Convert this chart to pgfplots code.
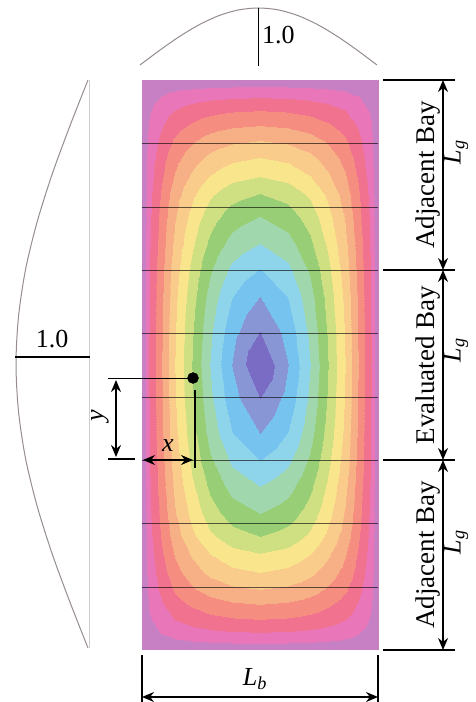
\documentclass[border=0pt]{standalone}
\usepackage{pgfplots}
\pgfplotsset{compat=1.18}
\usepackage{fontspec}
\setmainfont{Liberation Serif}
\usetikzlibrary{arrows.meta}
\tikzset{dimarr/.style={line width=1.4bp, arrows={Stealth[length=12bp,width=10bp]-Stealth[length=12bp,width=10bp]}}}
\definecolor{curvegray}{RGB}{150,140,140}
\definecolor{thingray}{RGB}{205,205,205}
\begin{document}
\begin{tikzpicture}
\begin{axis}[scale only axis, width=476bp, height=702bp,
  xmin=0, xmax=476, ymin=0, ymax=702, hide axis, clip=false,
  colormap={cont}{rgb255(0pt)=(199,128,196) rgb255(13.7pt)=(232,118,184) rgb255(27.7pt)=(240,114,142)
    rgb255(41.7pt)=(245,142,128) rgb255(55.7pt)=(247,176,134) rgb255(69.7pt)=(250,204,140)
    rgb255(83.7pt)=(249,230,140) rgb255(97.7pt)=(206,224,130) rgb255(111.7pt)=(152,206,118)
    rgb255(125.7pt)=(160,215,172) rgb255(139.7pt)=(142,213,236) rgb255(153.7pt)=(118,195,240)
    rgb255(167.7pt)=(136,150,214) rgb255(181.7pt)=(122,108,196) rgb255(196pt)=(122,108,196)},
  point meta min=0, point meta max=196]

\addplot[surf, shader=interp, colormap access=piecewise constant, mesh/rows=29, mesh/cols=15, point meta=explicit]
table[row sep=\\, meta=F]{
x y F\\
142 52 0\\149.3 52 0\\161.7 52 0\\175 52 0\\191.6 52 0\\210.4 52 0\\231.7 52 0\\260 52 0\\288.3 52 0\\309.6 52 0\\328.4 52 0\\345 52 0\\358.3 52 0\\370.7 52 0\\378 52 0\\
142 58.6 0\\149.3 58.6 5\\161.7 58.6 8.1\\175 58.6 10.3\\191.6 58.6 11.8\\210.4 58.6 12.9\\231.7 58.6 13.7\\260 58.6 14\\288.3 58.6 13.7\\309.6 58.6 12.9\\328.4 58.6 11.8\\345 58.6 10.3\\358.3 58.6 8.1\\370.7 58.6 5\\378 58.6 0\\
142 69.7 0\\149.3 69.7 8.9\\161.7 69.7 15\\175 69.7 19.6\\191.6 69.7 23\\210.4 69.7 25.5\\231.7 69.7 27.2\\260 69.7 28\\288.3 69.7 27.2\\309.6 69.7 25.5\\328.4 69.7 23\\345 69.7 19.6\\358.3 69.7 15\\370.7 69.7 8.9\\378 69.7 0\\
142 82.8 0\\149.3 82.8 12.2\\161.7 82.8 21.2\\175 82.8 28.3\\191.6 82.8 33.8\\210.4 82.8 37.9\\231.7 82.8 40.7\\260 82.8 42\\288.3 82.8 40.7\\309.6 82.8 37.9\\328.4 82.8 33.8\\345 82.8 28.3\\358.3 82.8 21.2\\370.7 82.8 12.2\\378 82.8 0\\
142 97.6 0\\149.3 97.6 15\\161.7 97.6 26.8\\175 97.6 36.4\\191.6 97.6 44.1\\210.4 97.6 50\\231.7 97.6 54\\260 97.6 56\\288.3 97.6 54\\309.6 97.6 50\\328.4 97.6 44.1\\345 97.6 36.4\\358.3 97.6 26.8\\370.7 97.6 15\\378 97.6 0\\
142 113.3 0\\149.3 113.3 17.5\\161.7 113.3 31.9\\175 113.3 44\\191.6 113.3 54\\210.4 113.3 61.8\\231.7 113.3 67.3\\260 113.3 70\\288.3 113.3 67.3\\309.6 113.3 61.8\\328.4 113.3 54\\345 113.3 44\\358.3 113.3 31.9\\370.7 113.3 17.5\\378 113.3 0\\
142 130.4 0\\149.3 130.4 19.6\\161.7 130.4 36.4\\175 130.4 51.1\\191.6 130.4 63.4\\210.4 130.4 73.3\\231.7 130.4 80.4\\260 130.4 84\\288.3 130.4 80.4\\309.6 130.4 73.3\\328.4 130.4 63.4\\345 130.4 51.1\\358.3 130.4 36.4\\370.7 130.4 19.6\\378 130.4 0\\
142 148.9 0\\149.3 148.9 21.4\\161.7 148.9 40.5\\175 148.9 57.5\\191.6 148.9 72.3\\210.4 148.9 84.5\\231.7 148.9 93.4\\260 148.9 98\\288.3 148.9 93.4\\309.6 148.9 84.5\\328.4 148.9 72.3\\345 148.9 57.5\\358.3 148.9 40.5\\370.7 148.9 21.4\\378 148.9 0\\
142 166 0\\149.3 166 23\\161.7 166 44.1\\175 166 63.4\\191.6 166 80.6\\210.4 166 95.2\\231.7 166 106.2\\260 166 112\\288.3 166 106.2\\309.6 166 95.2\\328.4 166 80.6\\345 166 63.4\\358.3 166 44.1\\370.7 166 23\\378 166 0\\
142 188.8 0\\149.3 188.8 24.4\\161.7 188.8 47.3\\175 188.8 68.7\\191.6 188.8 88.3\\210.4 188.8 105.4\\231.7 188.8 118.8\\260 188.8 126\\288.3 188.8 118.8\\309.6 188.8 105.4\\328.4 188.8 88.3\\345 188.8 68.7\\358.3 188.8 47.3\\370.7 188.8 24.4\\378 188.8 0\\
142 215.9 0\\149.3 215.9 25.5\\161.7 215.9 50\\175 215.9 73.3\\191.6 215.9 95.2\\210.4 215.9 114.9\\231.7 215.9 131\\260 215.9 140\\288.3 215.9 131\\309.6 215.9 114.9\\328.4 215.9 95.2\\345 215.9 73.3\\358.3 215.9 50\\370.7 215.9 25.5\\378 215.9 0\\
142 241.5 0\\149.3 241.5 26.5\\161.7 241.5 52.2\\175 241.5 77.2\\191.6 241.5 101.2\\210.4 241.5 123.5\\231.7 241.5 142.7\\260 241.5 154\\288.3 241.5 142.7\\309.6 241.5 123.5\\328.4 241.5 101.2\\345 241.5 77.2\\358.3 241.5 52.2\\370.7 241.5 26.5\\378 241.5 0\\
142 268.6 0\\149.3 268.6 27.2\\161.7 268.6 54\\175 268.6 80.4\\191.6 268.6 106.2\\210.4 268.6 131\\231.7 268.6 153.4\\260 268.6 168\\288.3 268.6 153.4\\309.6 268.6 131\\328.4 268.6 106.2\\345 268.6 80.4\\358.3 268.6 54\\370.7 268.6 27.2\\378 268.6 0\\
142 304.2 0\\149.3 304.2 27.7\\161.7 304.2 55.3\\175 304.2 82.8\\191.6 304.2 110\\210.4 304.2 136.8\\231.7 304.2 162.6\\260 304.2 182\\288.3 304.2 162.6\\309.6 304.2 136.8\\328.4 304.2 110\\345 304.2 82.8\\358.3 304.2 55.3\\370.7 304.2 27.7\\378 304.2 0\\
142 337 0\\149.3 337 28\\161.7 337 56\\175 337 84\\191.6 337 112\\210.4 337 140\\231.7 337 168\\260 337 196\\288.3 337 168\\309.6 337 140\\328.4 337 112\\345 337 84\\358.3 337 56\\370.7 337 28\\378 337 0\\
142 369.8 0\\149.3 369.8 27.7\\161.7 369.8 55.3\\175 369.8 82.8\\191.6 369.8 110\\210.4 369.8 136.8\\231.7 369.8 162.6\\260 369.8 182\\288.3 369.8 162.6\\309.6 369.8 136.8\\328.4 369.8 110\\345 369.8 82.8\\358.3 369.8 55.3\\370.7 369.8 27.7\\378 369.8 0\\
142 405.4 0\\149.3 405.4 27.2\\161.7 405.4 54\\175 405.4 80.4\\191.6 405.4 106.2\\210.4 405.4 131\\231.7 405.4 153.4\\260 405.4 168\\288.3 405.4 153.4\\309.6 405.4 131\\328.4 405.4 106.2\\345 405.4 80.4\\358.3 405.4 54\\370.7 405.4 27.2\\378 405.4 0\\
142 432.5 0\\149.3 432.5 26.5\\161.7 432.5 52.2\\175 432.5 77.2\\191.6 432.5 101.2\\210.4 432.5 123.5\\231.7 432.5 142.7\\260 432.5 154\\288.3 432.5 142.7\\309.6 432.5 123.5\\328.4 432.5 101.2\\345 432.5 77.2\\358.3 432.5 52.2\\370.7 432.5 26.5\\378 432.5 0\\
142 458.1 0\\149.3 458.1 25.5\\161.7 458.1 50\\175 458.1 73.3\\191.6 458.1 95.2\\210.4 458.1 114.9\\231.7 458.1 131\\260 458.1 140\\288.3 458.1 131\\309.6 458.1 114.9\\328.4 458.1 95.2\\345 458.1 73.3\\358.3 458.1 50\\370.7 458.1 25.5\\378 458.1 0\\
142 485.2 0\\149.3 485.2 24.4\\161.7 485.2 47.3\\175 485.2 68.7\\191.6 485.2 88.3\\210.4 485.2 105.4\\231.7 485.2 118.8\\260 485.2 126\\288.3 485.2 118.8\\309.6 485.2 105.4\\328.4 485.2 88.3\\345 485.2 68.7\\358.3 485.2 47.3\\370.7 485.2 24.4\\378 485.2 0\\
142 508 0\\149.3 508 23\\161.7 508 44.1\\175 508 63.4\\191.6 508 80.6\\210.4 508 95.2\\231.7 508 106.2\\260 508 112\\288.3 508 106.2\\309.6 508 95.2\\328.4 508 80.6\\345 508 63.4\\358.3 508 44.1\\370.7 508 23\\378 508 0\\
142 525.1 0\\149.3 525.1 21.4\\161.7 525.1 40.5\\175 525.1 57.5\\191.6 525.1 72.3\\210.4 525.1 84.5\\231.7 525.1 93.4\\260 525.1 98\\288.3 525.1 93.4\\309.6 525.1 84.5\\328.4 525.1 72.3\\345 525.1 57.5\\358.3 525.1 40.5\\370.7 525.1 21.4\\378 525.1 0\\
142 543.6 0\\149.3 543.6 19.6\\161.7 543.6 36.4\\175 543.6 51.1\\191.6 543.6 63.4\\210.4 543.6 73.3\\231.7 543.6 80.4\\260 543.6 84\\288.3 543.6 80.4\\309.6 543.6 73.3\\328.4 543.6 63.4\\345 543.6 51.1\\358.3 543.6 36.4\\370.7 543.6 19.6\\378 543.6 0\\
142 560.7 0\\149.3 560.7 17.5\\161.7 560.7 31.9\\175 560.7 44\\191.6 560.7 54\\210.4 560.7 61.8\\231.7 560.7 67.3\\260 560.7 70\\288.3 560.7 67.3\\309.6 560.7 61.8\\328.4 560.7 54\\345 560.7 44\\358.3 560.7 31.9\\370.7 560.7 17.5\\378 560.7 0\\
142 576.4 0\\149.3 576.4 15\\161.7 576.4 26.8\\175 576.4 36.4\\191.6 576.4 44.1\\210.4 576.4 50\\231.7 576.4 54\\260 576.4 56\\288.3 576.4 54\\309.6 576.4 50\\328.4 576.4 44.1\\345 576.4 36.4\\358.3 576.4 26.8\\370.7 576.4 15\\378 576.4 0\\
142 591.2 0\\149.3 591.2 12.2\\161.7 591.2 21.2\\175 591.2 28.3\\191.6 591.2 33.8\\210.4 591.2 37.9\\231.7 591.2 40.7\\260 591.2 42\\288.3 591.2 40.7\\309.6 591.2 37.9\\328.4 591.2 33.8\\345 591.2 28.3\\358.3 591.2 21.2\\370.7 591.2 12.2\\378 591.2 0\\
142 604.3 0\\149.3 604.3 8.9\\161.7 604.3 15\\175 604.3 19.6\\191.6 604.3 23\\210.4 604.3 25.5\\231.7 604.3 27.2\\260 604.3 28\\288.3 604.3 27.2\\309.6 604.3 25.5\\328.4 604.3 23\\345 604.3 19.6\\358.3 604.3 15\\370.7 604.3 8.9\\378 604.3 0\\
142 615.4 0\\149.3 615.4 5\\161.7 615.4 8.1\\175 615.4 10.3\\191.6 615.4 11.8\\210.4 615.4 12.9\\231.7 615.4 13.7\\260 615.4 14\\288.3 615.4 13.7\\309.6 615.4 12.9\\328.4 615.4 11.8\\345 615.4 10.3\\358.3 615.4 8.1\\370.7 615.4 5\\378 615.4 0\\
142 622 0\\149.3 622 0\\161.7 622 0\\175 622 0\\191.6 622 0\\210.4 622 0\\231.7 622 0\\260 622 0\\288.3 622 0\\309.6 622 0\\328.4 622 0\\345 622 0\\358.3 622 0\\370.7 622 0\\378 622 0\\
};

% joist lines across the plate
\pgfplotsinvokeforeach{559,495,432,369,305,242,179,115}{
  \addplot[black, line width=0.9bp, draw opacity=0.62] coordinates {(142,#1) (378,#1)};
}

% top profile
\addplot[curvegray, line width=1bp, smooth] coordinates {(140,637) (159.75,651.75) (179.5,665.5) (199.25,677.3) (219,686.4) (238.75,692.1) (258.5,694) (278.25,692.1) (298,686.4) (317.75,677.3) (337.5,665.5) (357.25,651.75) (377,637)};
\addplot[black, line width=1.4bp] coordinates {(258.5,694) (258.5,636)};
\node[anchor=base west, inner sep=0pt, font=\fontsize{26bp}{30bp}\selectfont] at (axis cs:262,658) {1.0};

% left profile
\addplot[thingray, line width=0.8bp] coordinates {(89,622) (89,54)};
\addplot[curvegray, line width=1bp, smooth] coordinates {(88,622) (69.4,574.7) (52,527.3) (37.1,480) (25.6,432.7) (18.5,385.3) (16,338) (18.5,290.7) (25.6,243.3) (37.1,196) (52,148.7) (69.4,101.3) (88,54)};
\addplot[black, line width=1.4bp] coordinates {(15,345) (90,345)};
\node[anchor=base, inner sep=0pt, font=\fontsize{26bp}{30bp}\selectfont] at (axis cs:52,354) {1.0};

% right dimensions
\pgfplotsinvokeforeach{622,432,242,52}{
  \addplot[black, line width=1.4bp] coordinates {(383,#1) (455,#1)};
}
\addplot[dimarr] coordinates {(443,622) (443,432)};
\addplot[dimarr] coordinates {(443,432) (443,242)};
\addplot[dimarr] coordinates {(443,242) (443,52)};
\node[rotate=90, inner sep=0pt, font=\fontsize{27bp}{30bp}\selectfont] at (axis cs:428,527) {Adjacent Bay};
\node[rotate=90, inner sep=0pt, font=\fontsize{27bp}{30bp}\selectfont] at (axis cs:428,337) {Evaluated Bay};
\node[rotate=90, inner sep=0pt, font=\fontsize{27bp}{30bp}\selectfont] at (axis cs:428,147) {Adjacent Bay};
\node[rotate=90, inner sep=0pt, font=\fontsize{26bp}{30bp}\selectfont] at (axis cs:456,550) {\textit{L}\textsubscript{\textit{g}}};
\node[rotate=90, inner sep=0pt, font=\fontsize{26bp}{30bp}\selectfont] at (axis cs:456,352) {\textit{L}\textsubscript{\textit{g}}};
\node[rotate=90, inner sep=0pt, font=\fontsize{26bp}{30bp}\selectfont] at (axis cs:456,160) {\textit{L}\textsubscript{\textit{g}}};

% bottom dimension
\addplot[black, line width=1.4bp] coordinates {(142,47) (142,0)};
\addplot[black, line width=1.4bp] coordinates {(378,47) (378,0)};
\addplot[dimarr] coordinates {(142,5) (378,5)};
\node[inner sep=0pt, font=\fontsize{26bp}{30bp}\selectfont] at (axis cs:255,23) {\textit{L}\textsubscript{\textit{b}}};

% evaluated point
\addplot[black, line width=1.4bp] coordinates {(108,323.5) (192,323.5)};
\addplot[black, line width=1.4bp] coordinates {(195,312) (195,234)};
\addplot[dimarr] coordinates {(116,322) (116,245)};
\addplot[black, line width=1.4bp] coordinates {(108,243) (135,243)};
\addplot[dimarr] coordinates {(143,242) (193,242)};
\addplot[only marks, mark=*, mark size=5.5bp, black] coordinates {(193,324)};
\node[inner sep=0pt, font=\fontsize{26bp}{30bp}\selectfont] at (axis cs:168,256) {\textit{x}};
\node[rotate=90, inner sep=0pt, font=\fontsize{26bp}{30bp}\selectfont] at (axis cs:100,286) {\textit{y}};
\end{axis}
\pgfresetboundingbox
\path (current axis.south west) rectangle (current axis.north east);
\end{tikzpicture}
\end{document}
